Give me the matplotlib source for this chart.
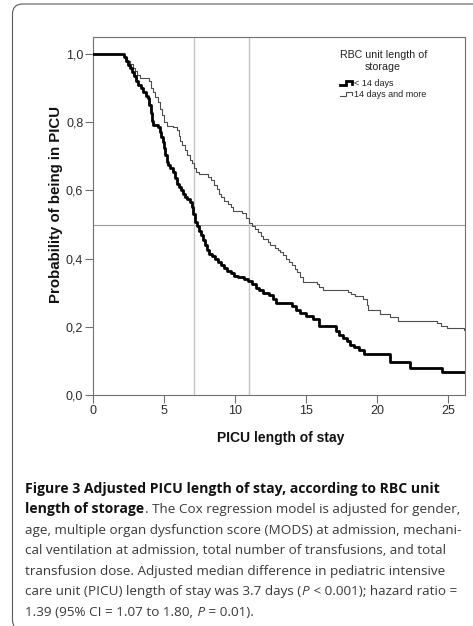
import numpy as np
import matplotlib
matplotlib.use("Agg")
import matplotlib.pyplot as plt
import matplotlib.transforms as mtransforms
from matplotlib.lines import Line2D
from matplotlib.legend_handler import HandlerLine2D
from matplotlib.patches import FancyBboxPatch
from matplotlib.ticker import FuncFormatter

# Kaplan-Meier style steps (days, probability)
t_short = [0, 2.15, 2.3, 2.45, 2.6, 2.75, 2.9, 3.05, 3.2, 3.35, 3.5, 3.7, 3.85,
           3.95, 4.05, 4.15, 4.25, 4.6, 4.7, 4.8, 4.9, 5.0, 5.1, 5.2, 5.3, 5.45,
           5.6, 5.75, 5.9, 6.05, 6.2, 6.35, 6.5, 6.65, 6.8, 6.95, 7.05, 7.15, 7.3,
           7.45, 7.6, 7.75, 7.9, 8.05, 8.2, 8.4, 8.6, 8.8, 9.0, 9.2, 9.45, 9.7,
           9.9, 10.2, 10.6, 10.9, 11.2, 11.5, 11.7, 12.0, 12.4, 12.7, 12.9, 14.0,
           14.3, 14.6, 15.0, 15.5, 15.9, 17.1, 17.3, 17.6, 17.9, 18.1, 18.4, 18.7,
           19.1, 20.9, 22.3, 24.6, 26.2]
s_short = [1.0, 0.99, 0.98, 0.968, 0.958, 0.948, 0.935, 0.922, 0.91, 0.9, 0.89,
           0.878, 0.87, 0.85, 0.826, 0.805, 0.792, 0.787, 0.772, 0.758, 0.743,
           0.725, 0.705, 0.684, 0.675, 0.665, 0.655, 0.635, 0.62, 0.61, 0.6, 0.59,
           0.582, 0.575, 0.567, 0.55, 0.53, 0.508, 0.495, 0.48, 0.468, 0.455, 0.44,
           0.425, 0.415, 0.407, 0.398, 0.39, 0.382, 0.373, 0.365, 0.357, 0.35,
           0.345, 0.34, 0.333, 0.325, 0.315, 0.307, 0.3, 0.293, 0.282, 0.271,
           0.262, 0.248, 0.24, 0.232, 0.224, 0.202, 0.188, 0.176, 0.168, 0.158,
           0.148, 0.14, 0.132, 0.12, 0.098, 0.078, 0.068, 0.068]

t_long = [0, 2.2, 2.4, 2.6, 2.8, 2.95, 3.1, 3.3, 3.95, 4.1, 4.25, 4.4, 4.55, 4.7,
          4.85, 5.0, 5.2, 5.6, 5.9, 6.05, 6.15, 6.3, 6.45, 6.6, 6.8, 6.95, 7.1,
          7.25, 7.5, 8.1, 8.3, 8.5, 8.7, 8.9, 9.05, 9.25, 9.5, 9.7, 9.85, 10.5,
          10.8, 11.0, 11.2, 11.4, 11.6, 11.8, 12.0, 12.3, 12.5, 12.8, 13.0, 13.2,
          13.4, 13.6, 13.8, 14.0, 14.2, 14.35, 14.55, 14.8, 15.75, 15.9, 16.2,
          17.95, 18.2, 18.45, 19.05, 19.3, 19.4, 20.2, 20.9, 21.5, 24.2, 24.5,
          24.9, 26.1, 26.2]
s_long = [1.0, 0.99, 0.98, 0.97, 0.96, 0.95, 0.94, 0.93, 0.92, 0.9, 0.888, 0.875,
          0.86, 0.84, 0.82, 0.8, 0.79, 0.785, 0.777, 0.76, 0.745, 0.732, 0.72,
          0.705, 0.69, 0.68, 0.665, 0.655, 0.648, 0.64, 0.63, 0.615, 0.603, 0.59,
          0.58, 0.568, 0.56, 0.55, 0.54, 0.533, 0.52, 0.505, 0.495, 0.486, 0.477,
          0.466, 0.458, 0.448, 0.44, 0.432, 0.424, 0.418, 0.41, 0.4, 0.39, 0.38,
          0.37, 0.36, 0.345, 0.332, 0.325, 0.317, 0.308, 0.302, 0.296, 0.29,
          0.283, 0.265, 0.25, 0.238, 0.228, 0.218, 0.21, 0.203, 0.196, 0.19, 0.19]

medians = [7.1, 11.0]
x_ticks = [0, 5, 10, 15, 20, 25]
y_ticks = [0.0, 0.2, 0.4, 0.6, 0.8, 1.0]

caption = [
    [("Figure 3 Adjusted PICU length of stay, according to RBC unit", "b")],
    [("length of storage", "b"), (". The Cox regression model is adjusted for gender,", "r")],
    [("age, multiple organ dysfunction score (MODS) at admission, mechani-", "r")],
    [("cal ventilation at admission, total number of transfusions, and total", "r")],
    [("transfusion dose. Adjusted median difference in pediatric intensive", "r")],
    [("care unit (PICU) length of stay was 3.7 days (", "r"), ("P", "i"),
     (" < 0.001); hazard ratio =", "r")],
    [("1.39 (95% CI = 1.07 to 1.80,", "r"), (" P", "i"), (" = 0.01).", "r")],
]

plt.rcParams['font.family'] = ['Liberation Sans', 'DejaVu Sans']

W, H = 473, 626
fig = plt.figure(figsize=(W / 100, H / 100), dpi=100)
ident = mtransforms.IdentityTransform()

# outer rounded frame
frame = FancyBboxPatch((12.5, -4), 490, 626, boxstyle="round,pad=0,rounding_size=10",
                       transform=ident, fill=False, ec="#5a5a5a", lw=0.8)
fig.add_artist(frame)

ax = fig.add_axes([93 / W, 1 - 395 / H, (465 - 93) / W, (395 - 37) / H])

ax.axhline(0.5, color="#9a9a9a", lw=0.8, zorder=1)
for m in medians:
    ax.axvline(m, color="#c4c4c4", lw=1.0, zorder=1)

ln_long, = ax.step(t_long, s_long, where="post", color="#4d4d4d", lw=0.8, zorder=2)
ln_short, = ax.step(t_short, s_short, where="post", color="black", lw=2.0, zorder=3)

ax.set_xlim(0, 26.2)
ax.set_ylim(0, 1.05)
ax.set_xticks(x_ticks)
ax.set_yticks(y_ticks)
ax.yaxis.set_major_formatter(FuncFormatter(lambda v, p: f"{v:.1f}".replace(".", ",")))
ax.tick_params(direction="out", length=5.5, width=0.8, color="#707070",
               labelsize=9, labelcolor="#2a2a2a", pad=1.5)
for sp in ax.spines.values():
    sp.set_color("#707070")
    sp.set_linewidth(0.8)

ax.set_xlabel("PICU length of stay", fontsize=10, fontweight="bold", color="#111111")
ax.xaxis.set_label_coords(0.505, -0.1)
ax.set_ylabel("Probability of being in PICU", fontsize=10.8, fontweight="bold", color="#111111")
ax.yaxis.set_label_coords(-0.08, 0.533)


class StepHandler(HandlerLine2D):
    def create_artists(self, legend, orig_handle, xdescent, ydescent, width, height,
                       fontsize, trans):
        xs = np.array([0.0, 0.45, 0.45, 0.95, 0.95]) * width - xdescent
        ys = np.array([0.15, 0.15, 0.75, 0.75, 0.35]) * height - ydescent
        line = Line2D(xs, ys, color=orig_handle.get_color(),
                      lw=orig_handle.get_linewidth(), solid_joinstyle="miter")
        line.set_transform(trans)
        return [line]


leg = ax.legend([ln_short, ln_long], ["< 14 days", "14 days and more"],
                handler_map={Line2D: StepHandler()},
                loc="upper center", bbox_to_anchor=(0.78, 0.963), frameon=False,
                title="RBC unit length of\nstorage", fontsize=6.5, title_fontsize=7.7,
                handlelength=1.4, handletextpad=0.1, labelspacing=0.25,
                borderaxespad=0, borderpad=0)
leg._legend_box.sep = 5
leg.get_title().set_multialignment("center")
leg.get_title().set_color("#222222")
for t in leg.get_texts():
    t.set_color("#222222")

# caption, drawn segment by segment so bold / italic parts sit inline
styles = {
    "b": dict(fontweight="bold", color="#111111", fontsize=10.1),
    "r": dict(color="#3a3a3a", fontsize=9.7),
    "i": dict(style="italic", color="#3a3a3a", fontsize=9.7),
}
renderer = fig.canvas.get_renderer()
cap_font = ["Open Sans", "DejaVu Sans"]
for k, segs in enumerate(caption):
    x = 25
    y = H - (492.7 + 20.5 * k)
    for txt, st in segs:
        t = fig.text(x, y, txt, transform=ident, ha="left", va="baseline",
                     family=cap_font, **styles[st])
        x += t.get_window_extent(renderer).width + 0.5

fig.savefig("out.png", dpi=100)
